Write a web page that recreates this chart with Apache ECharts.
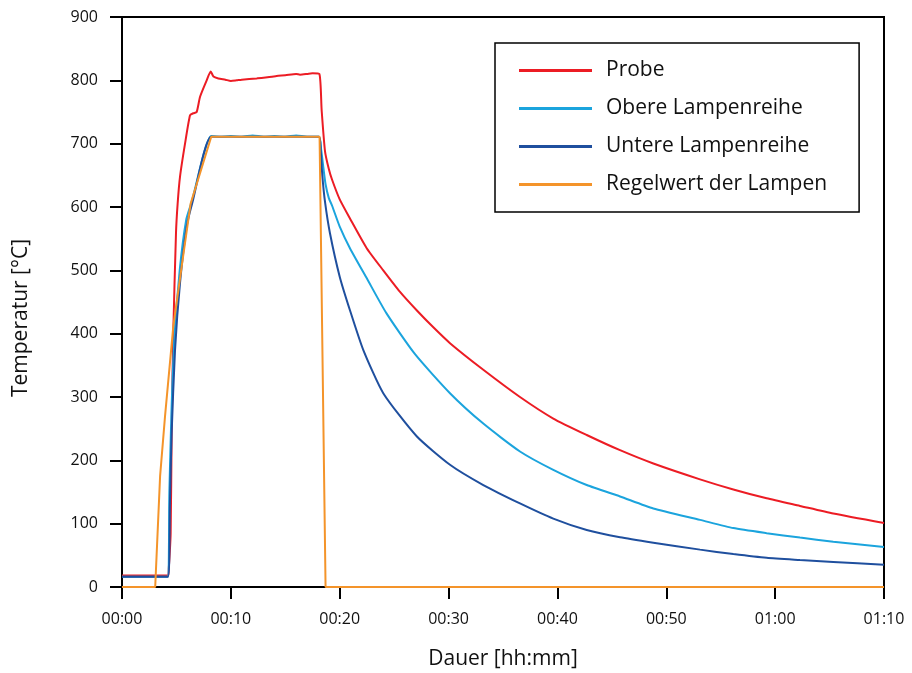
<!DOCTYPE html>
<html>
<head>
<meta charset="utf-8">
<script src="https://cdn.jsdelivr.net/npm/echarts@6/dist/echarts.min.js"></script>
<style>html,body{margin:0;padding:0;background:#fff}#c{width:912px;height:673px}</style>
</head>
<body>
<div id="c"></div>
<script>
// time in minutes
var xTicks = [0, 10, 20, 30, 40, 50, 60, 70];
var yTicks = [0, 100, 200, 300, 400, 500, 600, 700, 800, 900];
var seriesNames = ['Probe', 'Obere Lampenreihe', 'Untere Lampenreihe', 'Regelwert der Lampen'];

var probeT = [0, 4.22, 4.3, 4.47, 4.56, 4.71, 4.96, 5.11, 5.33, 5.79, 6.25, 6.55, 6.86, 7.17, 7.78, 8.15, 8.4, 8.85, 9.5, 10.0, 10.53, 11.0, 12.37, 13.0, 14.2, 15.0, 16.0, 16.35, 17.0, 17.5, 18.13, 18.34, 18.65, 19.0, 19.3, 20.0, 20.94, 22.48, 24.0, 25.54, 27.07, 28.6, 30.13, 33.19, 36.56, 39.62, 42.69, 45.75, 48.81, 53.1, 56.16, 59.22, 62.28, 65.34, 70];
var probeV = [18, 18, 30, 85, 243, 401, 559, 605, 648, 700, 745, 748, 750, 774, 800, 814, 806, 803, 801, 799, 800, 801, 803, 804, 807, 808, 810, 809, 810, 811, 810, 753, 688, 660, 643, 612, 582, 535, 500, 466, 437, 410, 385, 343, 300, 266, 240, 216, 195, 170, 154, 140, 128, 116, 101];

var obereT = [0, 4.18, 4.35, 4.55, 4.8, 5.3, 5.9, 6.4, 8.2, 9.0, 10.0, 11.0, 12.0, 13.0, 14.0, 15.0, 16.0, 17.0, 18.1, 18.3, 18.5, 18.7, 19.0, 19.3, 20.0, 20.94, 22.5, 24.3, 26.9, 30.13, 33.19, 36.56, 39.62, 42.69, 45.75, 48.81, 53.1, 56.16, 59.22, 62.28, 65.34, 70];
var obereV = [16, 16, 150, 280, 390, 500, 580, 608, 712, 711, 712, 711, 713, 711, 712, 711, 713, 711, 711, 690, 662, 636, 614, 602, 569, 535, 487, 432, 368, 306, 258, 214, 185, 161, 143, 124, 106, 93, 85, 78, 71.5, 63];

var untereT = [0, 4.22, 4.4, 4.56, 4.87, 5.33, 5.94, 6.45, 8.2, 10.0, 12.0, 14.0, 16.0, 18.1, 18.25, 18.4, 18.65, 19.1, 20.0, 20.94, 22.17, 24.0, 27.07, 30.13, 33.19, 36.56, 39.62, 42.69, 45.75, 48.81, 53.1, 56.16, 59.22, 62.28, 65.34, 70];
var untereV = [16, 16, 130, 243, 374, 480, 569, 606, 711, 711, 711, 711, 711, 711, 690, 650, 608, 559, 490, 437, 374, 306, 238, 193, 161, 132, 108, 90, 78.5, 70, 59, 52, 46, 42.6, 39.5, 35];

var regelT = [0, 3.05, 3.5, 3.95, 4.71, 5.48, 6.3, 8.2, 18.15, 18.7, 70];
var regelV = [0, 0, 175, 269, 411, 506, 605, 711, 711, 0, 0];

var colors = ['#ec1c24', '#1ba4dd', '#1f4f9e', '#f4942a'];
var smoothing = [0.2, 0.2, 0.2, false];

function pairs(t, v) { return t.map(function (x, i) { return [x, v[i]]; }); }
function hhmm(m) {
  var h = Math.floor(m / 60), mm = Math.round(m - h * 60);
  return (h < 10 ? '0' : '') + h + ':' + (mm < 10 ? '0' : '') + mm;
}

var FONT = 'Open Sans';
var chart = echarts.init(document.getElementById('c'), null, { renderer: 'canvas' });
var tData = [pairs(probeT, probeV), pairs(obereT, obereV), pairs(untereT, untereV), pairs(regelT, regelV)];

chart.setOption({
  animation: false,
  backgroundColor: '#fff',
  textStyle: { fontFamily: FONT },
  grid: { left: 122, right: 28, top: 17, bottom: 86, show: true, borderColor: '#000', borderWidth: 2, outerBoundsMode: 'none' },
  legend: {
    orient: 'vertical',
    left: 495, top: 43,
    data: seriesNames,
    icon: 'rect',
    itemWidth: 73, itemHeight: 3,
    itemGap: 17,
    padding: [17, 32, 17, 24],
    borderColor: '#000', borderWidth: 1.5,
    backgroundColor: '#fff',
    textStyle: { fontFamily: FONT, fontSize: 21, color: '#111', padding: [0, 0, 0, 9], lineHeight: 20 }
  },
  xAxis: {
    type: 'value', min: xTicks[0], max: xTicks[xTicks.length - 1], interval: 10,
    name: 'Dauer [hh:mm]', nameLocation: 'middle', nameGap: 62,
    nameTextStyle: { fontFamily: FONT, fontSize: 21, color: '#111' },
    axisLine: { show: true, onZero: false, lineStyle: { color: '#000', width: 2 } },
    axisTick: { show: true, inside: false, length: 12, lineStyle: { color: '#000', width: 2 } },
    axisLabel: { formatter: hhmm, fontFamily: FONT, fontSize: 16, color: '#111', margin: 24 },
    splitLine: { show: false }
  },
  yAxis: {
    type: 'value', min: yTicks[0], max: yTicks[yTicks.length - 1], interval: 100,
    name: 'Temperatur [°C]', nameLocation: 'middle', nameGap: 90,
    nameTextStyle: { fontFamily: FONT, fontSize: 21, color: '#111', padding: [0, 32, 0, 0] },
    axisLine: { show: true, lineStyle: { color: '#000', width: 2 } },
    axisTick: { show: true, inside: false, length: 12, lineStyle: { color: '#000', width: 2 } },
    axisLabel: { fontFamily: FONT, fontSize: 16, color: '#111', margin: 24 },
    splitLine: { show: false }
  },
  series: seriesNames.map(function (n, i) {
    return {
      name: n, type: 'line', data: tData[i], showSymbol: false, symbol: 'none',
      lineStyle: { color: colors[i], width: 2 }, itemStyle: { color: colors[i] },
      smooth: smoothing[i], clip: true
    };
  })
});
</script>
</body>
</html>
